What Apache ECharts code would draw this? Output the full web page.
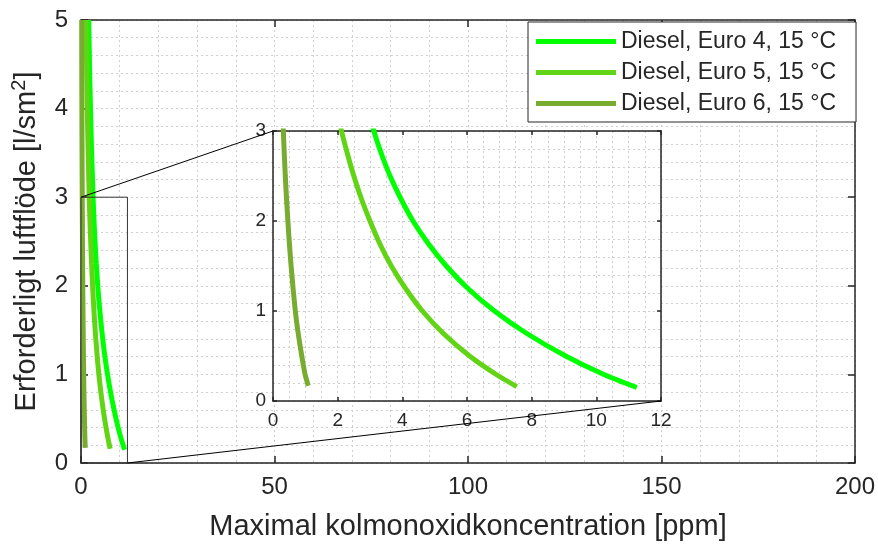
<!DOCTYPE html>
<html>
<head>
<meta charset="utf-8">
<script src="https://cdn.jsdelivr.net/npm/echarts@6/dist/echarts.min.js"></script>
<style>
  html, body { margin: 0; padding: 0; background: #fff; }
  #chart { width: 878px; height: 546px; }
</style>
</head>
<body>
<div id="chart"></div>
<script>
// Series names
const seriesNames = ['Diesel, Euro 4, 15 °C', 'Diesel, Euro 5, 15 °C', 'Diesel, Euro 6, 15 °C'];
const seriesColors = ['#00ff00', '#62d416', '#77ac30'];

// Required airflow [l/sm²] vs maximum CO concentration [ppm]
const euro4Ppm  = [2.0, 2.2, 2.45, 2.75, 3.12, 3.35, 3.62, 3.95, 4.33, 4.8, 5.36, 6.03, 6.85, 7.85, 9.05, 10.2, 11.25];
const euro4Flow = [5.0, 4.5, 4.0, 3.5, 3.0, 2.75, 2.5, 2.25, 2.0, 1.75, 1.5, 1.25, 1.0, 0.75, 0.5, 0.3, 0.15];

const euro5Ppm  = [1.3, 1.45, 1.62, 1.85, 2.12, 2.3, 2.5, 2.73, 3.0, 3.3, 3.66, 4.1, 4.62, 5.27, 6.08, 6.88, 7.54];
const euro5Flow = [5.0, 4.5, 4.0, 3.5, 3.0, 2.75, 2.5, 2.25, 2.0, 1.75, 1.5, 1.25, 1.0, 0.75, 0.5, 0.3, 0.16];

const euro6Ppm  = [0.18, 0.2, 0.23, 0.27, 0.32, 0.38, 0.46, 0.56, 0.69, 0.78, 0.89, 0.99, 1.09];
const euro6Flow = [5.0, 4.5, 4.0, 3.5, 3.0, 2.5, 2.0, 1.5, 1.0, 0.75, 0.5, 0.3, 0.17];

// Axis ranges: main view and zoomed inset
const mainX = { min: 0, max: 200, interval: 50 };
const mainY = { min: 0, max: 5, interval: 1 };
const zoomX = { min: 0, max: 12, interval: 2 };
const zoomY = { min: 0, max: 3, interval: 1 };

const pairs = (xs, ys) => xs.map((x, i) => [x, ys[i]]);
const curves = [pairs(euro4Ppm, euro4Flow), pairs(euro5Ppm, euro5Flow), pairs(euro6Ppm, euro6Flow)];

const ink = '#262626';
const FONT = '"Liberation Sans", Arial, Helvetica, sans-serif';
const gridLine = { show: true, lineStyle: { color: '#cfcfcf', width: 1, type: [2, 3] } };

function makeAxis(gridIndex, range, opts) {
  const labelled = opts.labels;
  return Object.assign({
    type: 'value',
    gridIndex: gridIndex,
    min: range.min, max: range.max, interval: range.interval,
    position: opts.position,
    z: opts.z,
    axisLine: { show: true, onZero: false, lineStyle: { color: ink, width: 1.5 } },
    axisTick: { show: true, inside: true, length: opts.tickLen, lineStyle: { color: ink, width: 1.5 } },
    axisLabel: { show: labelled, color: ink, fontSize: opts.fontSize, fontFamily: FONT, margin: opts.margin },
    splitLine: labelled ? gridLine : { show: false },
    minorTick: { show: false, splitNumber: opts.minor },
    minorSplitLine: labelled ? gridLine : { show: false }
  }, opts.extra || {});
}

const chart = echarts.init(document.getElementById('chart'), null, { renderer: 'canvas' });

const xAxes = [
  makeAxis(0, mainX, { position: 'bottom', labels: true, tickLen: 7, fontSize: 24, margin: 12, minor: 5, z: 0,
    extra: { name: 'Maximal kolmonoxidkoncentration [ppm]', nameLocation: 'middle', nameGap: 49,
      nameTextStyle: { color: ink, fontSize: 29, fontFamily: FONT } } }),
  makeAxis(0, mainX, { position: 'top', labels: false, tickLen: 7, minor: 5, z: 0 }),
  makeAxis(1, zoomX, { position: 'bottom', labels: true, tickLen: 4, fontSize: 19, margin: 10, minor: 4, z: 2 }),
  makeAxis(1, zoomX, { position: 'top', labels: false, tickLen: 4, minor: 4, z: 2 })
];

const yAxes = [
  makeAxis(0, mainY, { position: 'left', labels: true, tickLen: 7, fontSize: 24, margin: 13, minor: 5, z: 0,
    extra: { name: 'Erforderligt luftflöde [l/sm{sup|2}]', nameLocation: 'middle', nameGap: 35,
      nameTextStyle: { color: ink, fontSize: 29, fontFamily: FONT, lineHeight: 34,
        rich: { sup: { color: ink, fontSize: 20, fontFamily: FONT, verticalAlign: 'top', lineHeight: 20 } } } } }),
  makeAxis(0, mainY, { position: 'right', labels: false, tickLen: 7, minor: 5, z: 0 }),
  makeAxis(1, zoomY, { position: 'left', labels: true, tickLen: 4, fontSize: 19, margin: 7, minor: 5, z: 2 }),
  makeAxis(1, zoomY, { position: 'right', labels: false, tickLen: 4, minor: 5, z: 2 })
];

const series = [];
curves.forEach((data, i) => {
  series.push({
    name: seriesNames[i], type: 'line', xAxisIndex: 0, yAxisIndex: 0,
    data: data, smooth: 0.3, showSymbol: false, symbol: 'none', clip: false,
    lineStyle: { color: seriesColors[i], width: 5, cap: 'butt' }, itemStyle: { color: seriesColors[i] },
    z: 2, animation: false
  });
});
curves.forEach((data, i) => {
  series.push({
    name: seriesNames[i], type: 'line', xAxisIndex: 2, yAxisIndex: 2,
    data: data, smooth: 0.3, showSymbol: false, symbol: 'none', clip: true,
    lineStyle: { color: seriesColors[i], width: 5, cap: 'butt' }, itemStyle: { color: seriesColors[i] },
    z: 4, animation: false
  });
});

chart.setOption({
  animation: false,
  backgroundColor: '#ffffff',
  textStyle: { fontFamily: FONT },
  grid: [
    { left: 81, top: 20, width: 774, height: 447, z: 0 },
    { left: 273, top: 131, width: 388, height: 270, show: true, backgroundColor: '#ffffff', borderWidth: 0, z: 1 }
  ],
  legend: {
    data: seriesNames,
    orient: 'vertical',
    left: 528, top: 22,
    icon: 'rect', itemWidth: 80, itemHeight: 5, itemGap: 8,
    padding: [8, 20, 7, 8],
    backgroundColor: '#ffffff', borderColor: ink, borderWidth: 1,
    textStyle: { color: ink, fontSize: 23, fontFamily: FONT, lineHeight: 22 },
    z: 6
  },
  xAxis: xAxes,
  yAxis: yAxes,
  series: series
});

// Zoom box on the main view and the two connector lines to the inset
const mainCorner = (v) => chart.convertToPixel({ seriesIndex: 0 }, v);
const insetCorner = (v) => chart.convertToPixel({ seriesIndex: 3 }, v);
const boxTL = mainCorner([zoomX.min, zoomY.max]);
const boxBR = mainCorner([zoomX.max, zoomY.min]);
const insTL = insetCorner([zoomX.min, zoomY.max]);
const insBR = insetCorner([zoomX.max, zoomY.min]);

chart.setOption({
  graphic: [
    { type: 'rect', z: 5, silent: true,
      shape: { x: boxTL[0], y: boxTL[1], width: boxBR[0] - boxTL[0], height: boxBR[1] - boxTL[1] },
      style: { fill: null, stroke: '#333333', lineWidth: 1 } },
    { type: 'line', z: 5, silent: true,
      shape: { x1: boxTL[0], y1: boxTL[1], x2: insTL[0], y2: insTL[1] },
      style: { stroke: '#000000', lineWidth: 1 } },
    { type: 'line', z: 5, silent: true,
      shape: { x1: boxBR[0], y1: boxBR[1], x2: insBR[0], y2: insBR[1] },
      style: { stroke: '#000000', lineWidth: 1 } }
  ]
});
</script>
</body>
</html>
